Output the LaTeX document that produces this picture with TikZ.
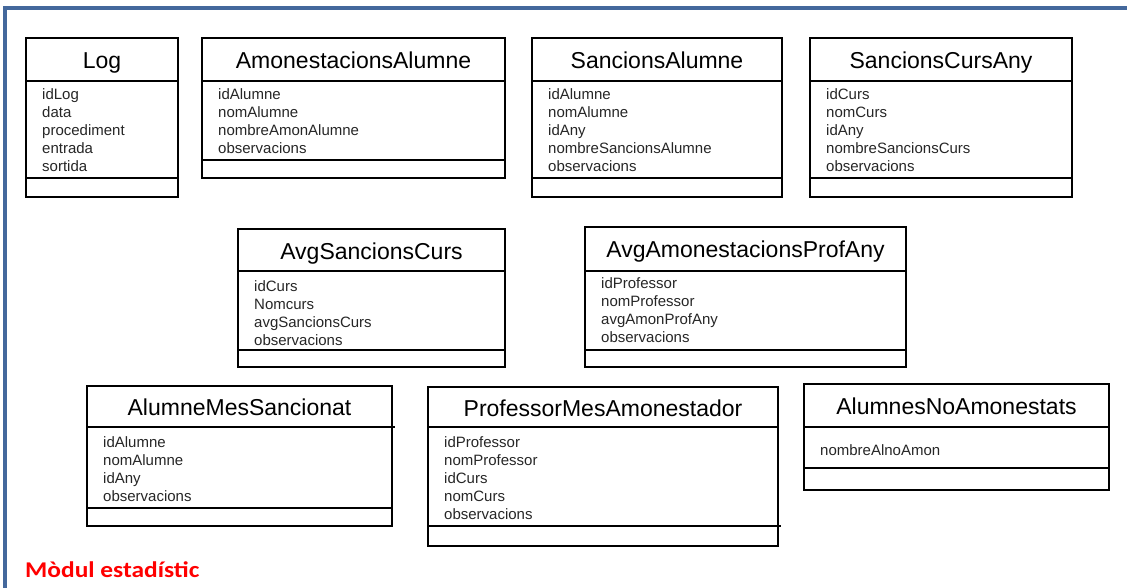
\documentclass[tikz,border=0pt]{standalone}
\usepackage{fontspec}
\setmainfont{Liberation Sans}
\newfontfamily\labfont{Carlito}
\definecolor{frameblue}{RGB}{68,104,156}
\definecolor{labred}{RGB}{255,0,0}
\begin{document}
\begin{tikzpicture}[x=1pt,y=-1pt,
  boxst/.style={draw=black, line width=1.8pt, rectangle, inner sep=0pt, outer sep=0pt},
  sepst/.style={draw=black, line width=1.6pt},
  titlest/.style={anchor=base, inner sep=0pt, font=\fontsize{23}{27}\selectfont},
  attrst/.style={anchor=base west, inner sep=0pt, font=\fontsize{15}{18}\selectfont, text=black!85},
  framest/.style={draw=frameblue, line width=4.2pt}
]
\useasboundingbox (0,0) rectangle (1127,588);
% frame
\coordinate (fbl) at (5.3,590);
\coordinate (ftl) at (5.3,8);
\coordinate (ftr) at (1130,8);
\draw[framest] (fbl) -- (ftl) -- (ftr);

% #1 name, #2 L, #3 R, #4 T, #5 S1, #6 S2, #7 B, #8 title, #9 first baseline
\newcommand\ubox[9]{%
  \pgfmathsetmacro\bw{#3-#2}%
  \pgfmathsetmacro\bh{#7-#4}%
  \pgfmathsetmacro\bcx{(#2+#3)/2}%
  \pgfmathsetmacro\bcy{(#4+#7)/2}%
  \pgfmathsetmacro\tby{(#4+#5)/2+9}%
  \node[boxst, minimum width=\bw pt, minimum height=\bh pt] (#1) at (\bcx,\bcy) {};
  \coordinate (#1-s1l) at (#2,#5);
  \coordinate (#1-s1r) at (#3,#5);
  \coordinate (#1-s2l) at (#2,#6);
  \coordinate (#1-s2r) at (#3,#6);
  \draw[sepst] (#1-s1l) -- (#1-s1r);
  \draw[sepst] (#1-s2l) -- (#1-s2r);
  \node[titlest] (#1-title) at (\bcx,\tby) {#8};
  \xdef\attrx{\the\numexpr#2+16\relax}%
  \xdef\attry{#9}%
}
\newcommand\uattrs[2]{%
  \foreach \t [count=\i] in {#2} {
    \pgfmathsetmacro\ay{\attry+18*(\i-1)}
    \node[attrst] (#1-a\i) at (\attrx,\ay) {\t};
  }
}

\ubox{log}{26}{178}{38}{81}{178}{197}{Log}{100}
\uattrs{log}{idLog,data,procediment,entrada,sortida}

\ubox{amon}{202}{505}{38}{81}{160}{178}{AmonestacionsAlumne}{100}
\uattrs{amon}{idAlumne,nomAlumne,nombreAmonAlumne,observacions}

\ubox{sanc}{532}{782}{38}{81}{178}{197}{SancionsAlumne}{100}
\uattrs{sanc}{idAlumne,nomAlumne,idAny,nombreSancionsAlumne,observacions}

\ubox{scany}{810}{1072}{38}{81}{178}{197}{SancionsCursAny}{100}
\uattrs{scany}{idCurs,nomCurs,idAny,nombreSancionsCurs,observacions}

\ubox{avgsc}{238}{505}{229}{271}{350}{367}{AvgSancionsCurs}{291}
\uattrs{avgsc}{idCurs,Nomcurs,avgSancionsCurs,observacions}

\ubox{avgap}{585}{906}{227}{271}{350}{367}{AvgAmonestacionsProfAny}{288}
\uattrs{avgap}{idProfessor,nomProfessor,avgAmonProfAny,observacions}

\ubox{ams}{87}{392}{386}{427}{508}{526}{AlumneMesSancionat}{447}
\uattrs{ams}{idAlumne,nomAlumne,idAny,observacions}
\coordinate (ams-ext) at (395,427);
\draw[sepst] (ams-s1r) -- (ams-ext);

\ubox{pma}{428}{778}{387}{427}{526}{546}{ProfessorMesAmonestador}{447}
\uattrs{pma}{idProfessor,nomProfessor,idCurs,nomCurs,observacions}
\coordinate (pma-ext) at (781,526);
\draw[sepst] (pma-s2r) -- (pma-ext);

\ubox{nam}{804}{1109}{384}{427}{468}{490}{AlumnesNoAmonestats}{455}
\uattrs{nam}{nombreAlnoAmon}

\node[anchor=base west, inner sep=0pt, text=labred, font=\labfont\bfseries\fontsize{22.5}{26}\selectfont] (label) at (25,577) {\scalebox{1.13}[1]{Mòdul estadístic}};
\end{tikzpicture}
\end{document}
